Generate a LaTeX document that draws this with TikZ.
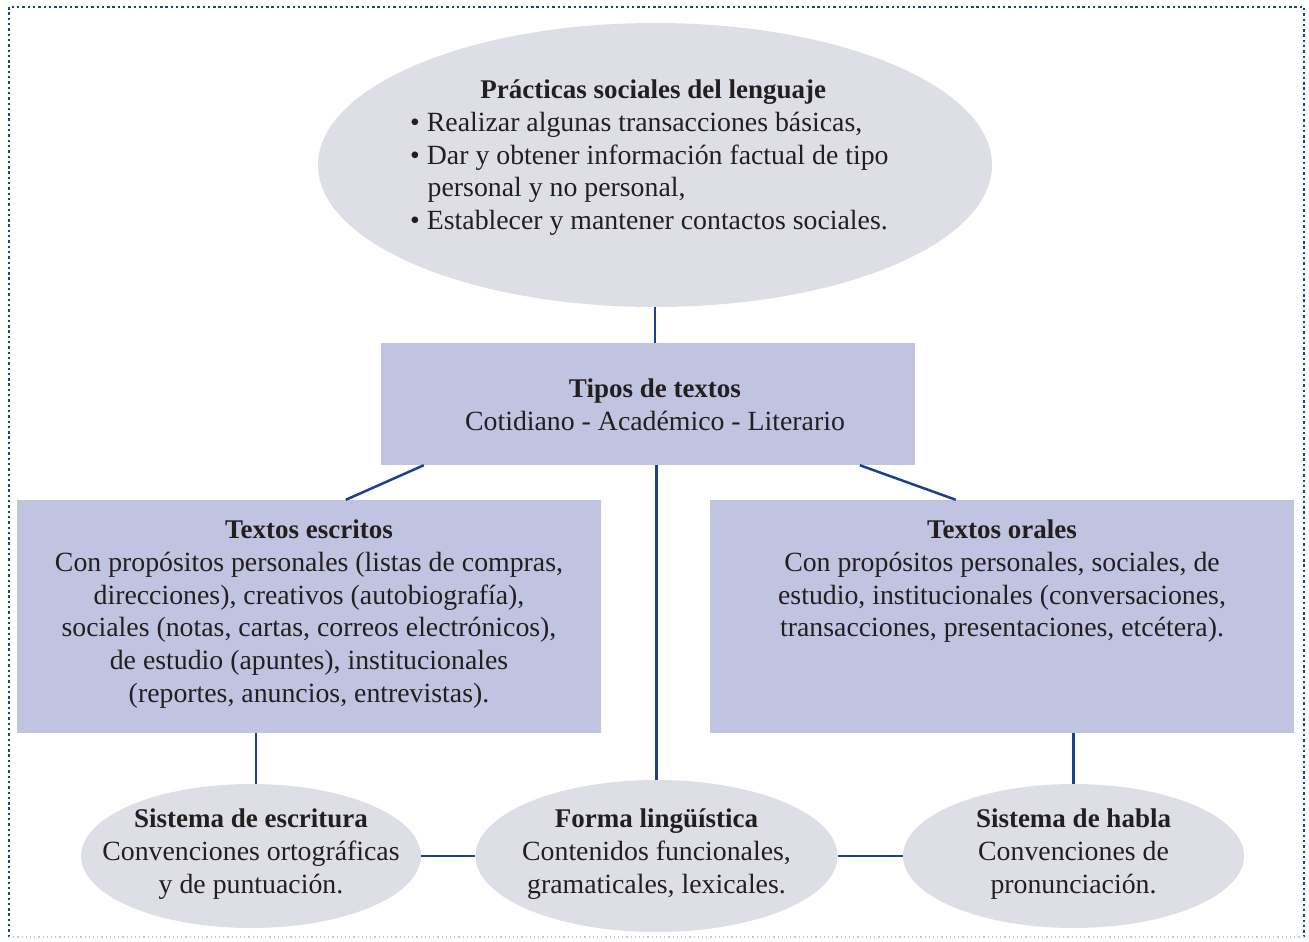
\documentclass[tikz,border=0pt]{standalone}
\usepackage{fontspec}
\setmainfont{Liberation Serif}
\usetikzlibrary{shapes.geometric,calc}
\definecolor{ovalgray}{HTML}{DEDFE6}
\definecolor{panelblue}{HTML}{C1C4E0}
\definecolor{linkblue}{HTML}{1F3F8F}
\definecolor{textcol}{HTML}{231F20}
\definecolor{bordergray}{HTML}{C8C8CC}
\newcommand{\ttl}[1]{{\fontsize{27}{32.8}\selectfont\bfseries #1}}
\tikzset{
  oval/.style={ellipse, fill=ovalgray, inner sep=0pt},
  panel/.style={rectangle, fill=panelblue, inner sep=0pt},
  link/.style={draw=linkblue, line width=2.5pt},
  txt/.style={text=textcol, align=center, inner sep=0pt, font=\fontsize{27.8}{32.8}\selectfont},
}
\begin{document}
\begin{tikzpicture}[x=1pt,y=-1pt]
\useasboundingbox (0,0) rectangle (1309,942);
% border
\draw[draw=linkblue, line width=2.4pt, dash pattern=on 2.4pt off 2.9pt] (9,937) -- (9,7) -- (1304,7) -- (1304,937);
\draw[draw=bordergray, line width=1.2pt, dash pattern=on 1.2pt off 3pt] (9,937) -- (1304,937);
% nodes
\node[oval, minimum width=674pt, minimum height=284pt] (pr) at (655,165) {};
\node[txt, align=left, anchor=north west] (prt) at (410,79.5) {%
\makebox[486pt][c]{\ttl{Pr\'acticas sociales del lenguaje}}\\
\textbullet\ Realizar algunas transacciones b\'asicas,\\
\textbullet\ Dar y obtener informaci\'on factual de tipo\\
\hspace*{17.5pt}personal y no personal,\\
\textbullet\ Establecer y mantener contactos sociales.};
\node[panel, minimum width=534pt, minimum height=122pt] (ti) at (648,404) {};
\node[txt] (tit) at (655,405) {\ttl{Tipos de textos}\\Cotidiano - Acad\'emico - Literario};
\node[panel, minimum width=584pt, minimum height=233pt] (es) at (309,616.5) {};
\node[txt, anchor=north] (est) at (309,519.5) {\ttl{Textos escritos}\\
Con prop\'ositos personales (listas de compras,\\
direcciones), creativos (autobiograf\'{\i}a),\\
sociales (notas, cartas, correos electr\'onicos),\\
de estudio (apuntes), institucionales\\
(reportes, anuncios, entrevistas).};
\node[panel, minimum width=584pt, minimum height=233pt] (or) at (1002,616.5) {};
\node[txt, anchor=north] (ort) at (1002,519.5) {\ttl{Textos orales}\\
Con prop\'ositos personales, sociales, de\\
estudio, institucionales (conversaciones,\\
transacciones, presentaciones, etc\'etera).};
\node[oval, minimum width=340pt, minimum height=144pt] (ew) at (251,856) {};
\node[txt] (ewt) at (251,854) {\ttl{Sistema de escritura}\\Convenciones ortogr\'aficas\\y de puntuaci\'on.};
\node[oval, minimum width=362pt, minimum height=152pt] (fo) at (656.5,856) {};
\node[txt] (fot) at (656.5,854) {\ttl{Forma ling\"u\'{\i}stica}\\Contenidos funcionales,\\gramaticales, lexicales.};
\node[oval, minimum width=341pt, minimum height=144pt] (ha) at (1073.5,856) {};
\node[txt] (hat) at (1073.5,854) {\ttl{Sistema de habla}\\Convenciones de\\pronunciaci\'on.};
% connectors
\draw[link] (pr.south) -- (pr.south |- ti.north);
\draw[link] ($(ti.south west)+(43,0)$) -- ($(es.north west)+(329,0)$);
\draw[link] ($(ti.south west)+(479,0)$) -- ($(or.north west)+(246,0)$);
\draw[link] (ti.south -| fo.north) -- (fo.north);
\draw[link] ($(es.south west)+(239,0)$) coordinate (a1) -- (a1 |- ew.north);
\draw[link] (ha.north |- or.south) -- (ha.north);
\draw[link] (ew.east) -- (fo.west);
\draw[link] (fo.east) -- (ha.west);
\end{tikzpicture}
\end{document}
